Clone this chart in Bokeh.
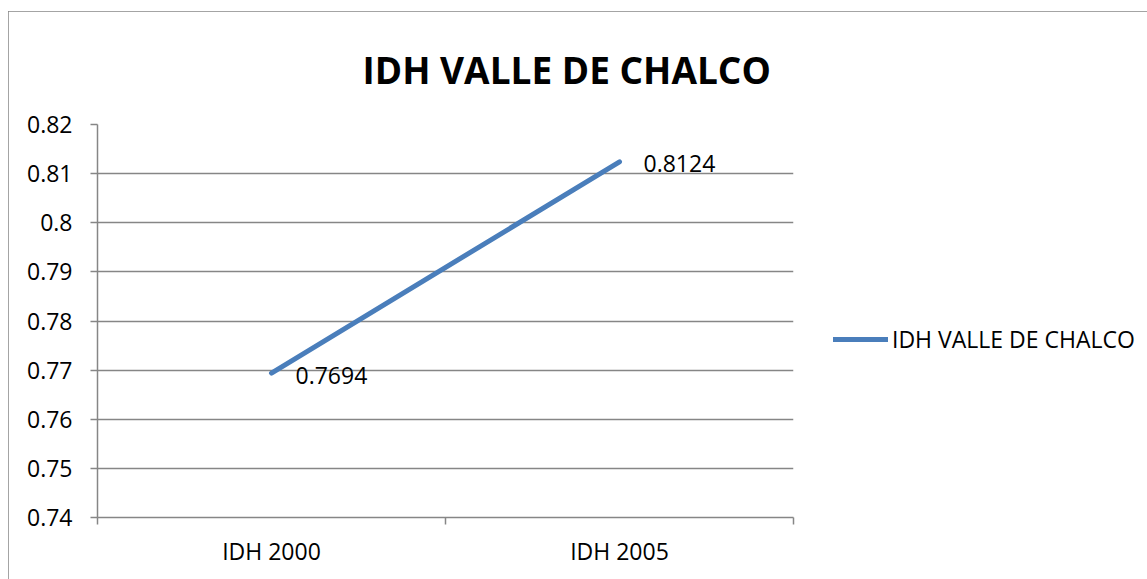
from bokeh.plotting import figure
from bokeh.models import (FixedTicker, ColumnDataSource, Legend, LegendItem,
                          Title, Range1d)
from bokeh.core.properties import value
from bokeh.embed import file_html
from bokeh.resources import INLINE

# ---- data ----
categories = ["IDH 2000", "IDH 2005"]
idh_values = [0.7694, 0.8124]
series_name = "IDH VALLE DE CHALCO"
chart_title = "IDH VALLE DE CHALCO"
y_ticks = [0.74, 0.75, 0.76, 0.77, 0.78, 0.79, 0.80, 0.81, 0.82]
y_tick_labels = ["0.74", "0.75", "0.76", "0.77", "0.78", "0.79", "0.8", "0.81", "0.82"]

FONT = "Open Sans"
GRAY = "#868686"

x_pos = [i + 0.5 for i in range(len(categories))]
bounds = [float(i) for i in range(len(categories) + 1)]
src = ColumnDataSource(dict(x=x_pos, y=idh_values,
                            label=[f"{v:.4f}" for v in idh_values]))

p = figure(frame_width=696, frame_height=393, output_backend="svg", toolbar_location=None,
           x_range=Range1d(0, len(categories)), y_range=Range1d(y_ticks[0], y_ticks[-1]),
           min_border_left=89, min_border_right=0, min_border_top=113,
           min_border_bottom=62)
p.margin = (11, 0, 0, 8)
p.styles = {"outline": "2px solid #868686", "outline-offset": "-2px"}
p.outline_line_color = None
p.background_fill_color = "white"
p.border_fill_color = "white"

# grid
p.xgrid.visible = False
p.ygrid.ticker = FixedTicker(ticks=y_ticks)
p.ygrid.grid_line_color = GRAY
p.ygrid.grid_line_width = 1.5

# y axis
ya = p.yaxis[0]
ya.ticker = FixedTicker(ticks=y_ticks, minor_ticks=[])
ya.major_label_overrides = {t: l for t, l in zip(y_ticks, y_tick_labels)}
ya.axis_line_color = GRAY
ya.axis_line_width = 1.5
ya.major_tick_line_color = GRAY
ya.major_tick_line_width = 1.5
ya.major_tick_out = 7
ya.major_tick_in = 0
ya.minor_tick_line_color = None
ya.major_label_standoff = 18
ya.major_label_text_font = FONT
ya.major_label_text_font_size = "23px"
ya.major_label_text_color = "black"

# x axis
xa = p.xaxis[0]
xa.ticker = FixedTicker(ticks=x_pos, minor_ticks=bounds)
xa.major_label_overrides = {x: c for x, c in zip(x_pos, categories)}
xa.axis_line_color = GRAY
xa.axis_line_width = 1.5
xa.major_tick_line_color = None
xa.minor_tick_line_color = GRAY
xa.minor_tick_line_width = 1.5
xa.minor_tick_out = 7
xa.minor_tick_in = 0
xa.major_label_standoff = 10
xa.major_label_text_font = FONT
xa.major_label_text_font_size = "23px"
xa.major_label_text_color = "black"

# series
line_r = p.line("x", "y", source=src, line_color="#4A7EBB", line_width=5,
                line_cap="round")
p.text("x", "y", "label", source=src, x_offset=24, y_offset=2,
       text_baseline="middle", text_align="left",
       text_font=value(FONT), text_font_size="23px", text_color="black")

# title
title = Title(text=chart_title, align="left", offset=265, standoff=60,
              text_font=FONT, text_font_size="37px", text_font_style="bold",
              text_color="black")
p.add_layout(title, "above")

# legend
legend = Legend(items=[LegendItem(label=series_name, renderers=[line_r])],
                location=(40, 162), orientation="vertical")
legend.label_text_font = FONT
legend.label_text_font_size = "23px"
legend.label_text_color = "black"
legend.glyph_width = 55
legend.glyph_height = 20
legend.label_height = 20
legend.label_standoff = 4
legend.padding = 0
legend.margin = 0
legend.spacing = 0
legend.border_line_color = None
legend.background_fill_alpha = 0
p.add_layout(legend, "right")

open("out.html", "w").write(file_html(p, INLINE))
